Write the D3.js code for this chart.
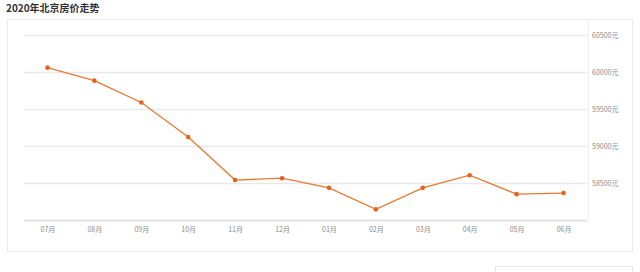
<!DOCTYPE html>
<html>
<head>
<meta charset="utf-8">
<script src="https://cdn.jsdelivr.net/npm/d3@7"></script>
<style>
  body { margin: 0; background: #fff; }
  svg { display: block; font-family: "Noto Sans CJK SC", "Noto Sans", sans-serif; }
</style>
</head>
<body>
<svg id="chart"></svg>
<script>
// data
var months = ['07月','08月','09月','10月','11月','12月','01月','02月','03月','04月','05月','06月'];
var prices = [60060, 59885, 59590, 59125, 58545, 58570, 58440, 58150, 58440, 58610, 58355, 58370];
var yTicks = [58500, 59000, 59500, 60000, 60500];
var title = '2020年北京房价走势';

// plot area (window.top is taken, hence the names)
var width = 640,
    height = 272,
    plotLeft = 24, plotRight = 587,
    plotTop = 35, plotBottom = 220.5;

var svg = d3.select("#chart")
  .attr("width", width)
  .attr("height", height);

// card
svg.append("rect")
  .attr("x", 7.5).attr("y", 19.5)
  .attr("width", 625).attr("height", 232)
  .style("fill", "#fff")
  .style("stroke", "#ebebeb");

// little box bottom right
svg.append("rect")
  .attr("x", 495.5).attr("y", 266.5)
  .attr("width", 137).attr("height", 20)
  .style("fill", "#fff")
  .style("stroke", "#e6e6e6");

svg.append("text")
  .attr("x", 6).attr("y", 12)
  .style("font-size", "10px")
  .style("font-weight", "bold")
  .style("fill", "#333")
  .text(title);

var x = d3.scalePoint()
  .domain(months)
  .range([plotLeft, plotRight])
  .padding(0.5);

var y = d3.scaleLinear()
  .domain([58000, 60500])
  .range([plotBottom, plotTop]);

// grid lines
svg.append("g")
  .selectAll("line")
  .data(yTicks)
  .enter().append("line")
    .attr("x1", plotLeft).attr("x2", plotRight)
    .attr("y1", function(d) { return Math.round(y(d)) + 0.5; })
    .attr("y2", function(d) { return Math.round(y(d)) + 0.5; })
    .style("stroke", "#e9e9e9")
    .style("stroke-width", "1.5px");

// right border of plot
svg.append("line")
  .attr("x1", plotRight + 1.5).attr("x2", plotRight + 1.5)
  .attr("y1", 20).attr("y2", plotBottom)
  .style("stroke", "#efefef");

// y labels
svg.append("g")
  .selectAll("text")
  .data(yTicks)
  .enter().append("text")
    .attr("x", plotRight + 5)
    .attr("y", function(d) { return y(d) + 2.5; })
    .style("font-size", "7px")
    .style("fill", "#8a8a8a")
    .text(function(d) { return d + "元"; });

// x axis
var xAxis = svg.append("g")
  .attr("transform", "translate(0," + plotBottom + ")")
  .call(d3.axisBottom(x).tickSize(0).tickPadding(7));
xAxis.select(".domain")
  .attr("d", "M" + plotLeft + ",0H" + plotRight)
  .style("stroke", "#e2e2e2")
  .style("stroke-width", "2px");
xAxis.selectAll("text")
  .style("font-size", "7px")
  .style("font-family", '"Noto Sans CJK SC", "Noto Sans", sans-serif')
  .style("fill", "#8a8a8a");

// line
var line = d3.line()
  .x(function(d, i) { return x(months[i]); })
  .y(function(d) { return y(d); });

svg.append("path")
  .datum(prices)
  .attr("d", line)
  .style("fill", "none")
  .style("stroke", "#e8782f")
  .style("stroke-width", "1.3px");

svg.append("g")
  .selectAll("circle")
  .data(prices)
  .enter().append("circle")
    .attr("cx", function(d, i) { return x(months[i]); })
    .attr("cy", function(d) { return y(d); })
    .attr("r", 2.3)
    .style("fill", "#e4621f");
</script>
</body>
</html>
